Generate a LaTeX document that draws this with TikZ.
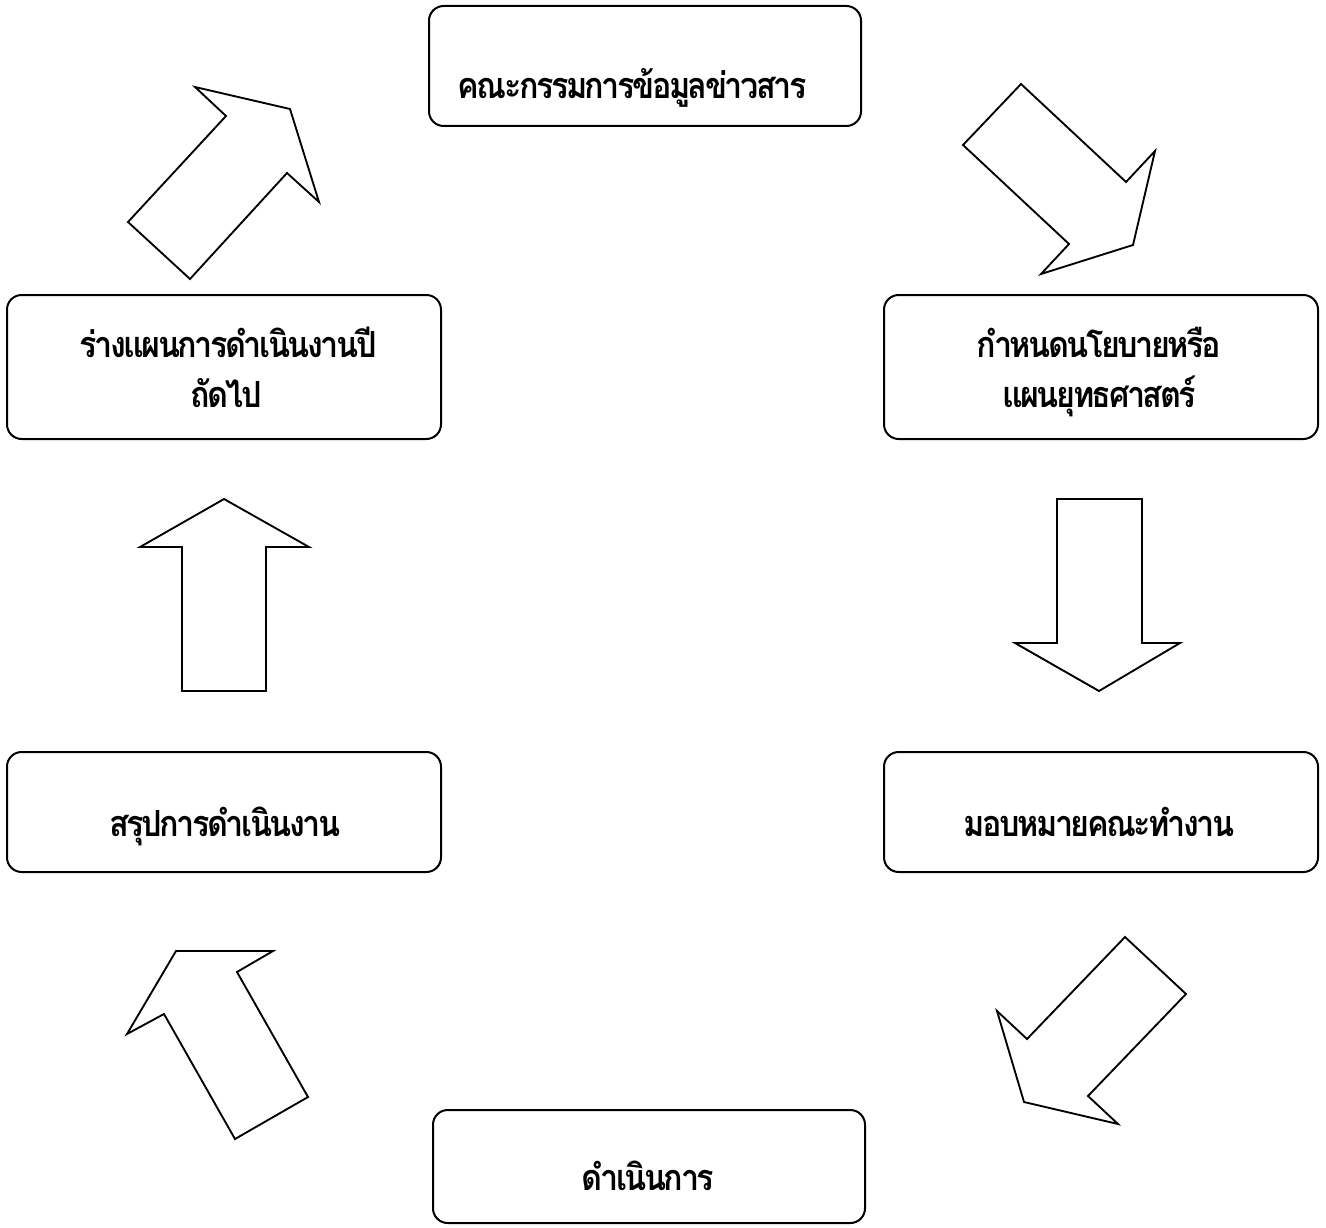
\documentclass[tikz,border=0pt]{standalone}
\usepackage{fontspec}
\newfontfamily\thaifont[Script=Thai,FakeStretch=0.9,LetterSpace=-7]{Loma}
\begin{document}
\begin{tikzpicture}[x=0.75pt,y=-0.75pt,
  box/.style={draw, line width=1.5pt, rounded corners=11pt, inner sep=0pt, fill=white},
  label/.style={anchor=base, font=\thaifont\bfseries\fontsize{27}{32}\selectfont, inner sep=0pt},
  blockarrow/.style={draw, line width=1.4pt, line join=miter, fill=white}]
\useasboundingbox (0,0) rectangle (1326,1227);
\fill[white] (0,0) rectangle (1326,1227);
% boxes
\node[box, minimum width=324pt, minimum height=90pt] (b1) at (645,66) {};
\node[box, minimum width=325.5pt, minimum height=108pt] (b2) at (1101,367) {};
\node[box, minimum width=325.5pt, minimum height=90pt] (b3) at (1101,812) {};
\node[box, minimum width=324pt, minimum height=84.75pt] (b4) at (649,1166.5) {};
\node[box, minimum width=325.5pt, minimum height=90pt] (b5) at (224,812) {};
\node[box, minimum width=325.5pt, minimum height=108pt] (b6) at (224,367) {};
% texts
\node[label] (t1) at (632,99) {คณะกรรมการข้อมูลข่าวสาร};
\node[label] (t2a) at (1099,357) {กำหนดนโยบายหรือ};
\node[label] (t2b) at (1099,407) {แผนยุทธศาสตร์};
\node[label] (t3) at (1099,836) {มอบหมายคณะทำงาน};
\node[label] (t4) at (648,1190) {ดำเนินการ};
\node[label] (t5) at (225,836) {สรุปการดำเนินงาน};
\node[label] (t6a) at (228,357) {ร่างแผนการดำเนินงานปี};
\node[label] (t6b) at (226,407) {ถัดไป};
% block arrows
\draw[blockarrow] (195,87) -- (290,109) -- (319,202) -- (287,173) -- (190,279) -- (128,222) -- (226,116) -- cycle;
\draw[blockarrow] (1021,84) -- (1126,182) -- (1155,151) -- (1133,245) -- (1041,274) -- (1069,244) -- (963,145) -- cycle;
\draw[blockarrow] (1057,499) -- (1142,499) -- (1142,643) -- (1180,643) -- (1099,691) -- (1015,643) -- (1057,643) -- cycle;
\draw[blockarrow] (224,499) -- (309,547) -- (266,547) -- (266,691) -- (182,691) -- (182,547) -- (140,547) -- cycle;
\draw[blockarrow] (1125,937) -- (1186,994) -- (1088,1096) -- (1118,1124) -- (1024,1102) -- (997,1011) -- (1027,1039) -- cycle;
\draw[blockarrow] (176,951) -- (273,951) -- (237,972) -- (308,1097) -- (235,1139) -- (164,1014) -- (127,1034) -- cycle;
\end{tikzpicture}
\end{document}
